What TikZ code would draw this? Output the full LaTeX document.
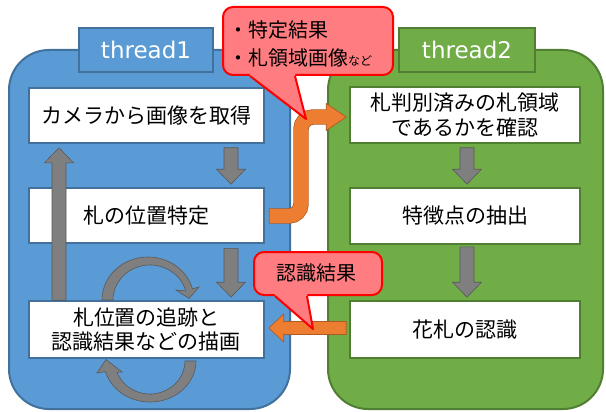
\documentclass[tikz,border=0pt]{standalone}
\usepackage{fontspec}
\usetikzlibrary{calc}
\newfontfamily\jpfont{Noto Sans CJK JP}
\newfontfamily\latfont{DejaVu Sans}
\definecolor{bluefill}{RGB}{91,155,213}
\definecolor{blueline}{RGB}{65,113,156}
\definecolor{greenfill}{RGB}{112,173,71}
\definecolor{greenline}{RGB}{80,126,50}
\definecolor{orfill}{RGB}{237,125,49}
\definecolor{orline}{RGB}{174,90,33}
\definecolor{calfill}{RGB}{255,124,128}
\definecolor{calline}{RGB}{255,0,0}
\definecolor{grfill}{RGB}{127,127,127}
\definecolor{grline}{RGB}{89,89,89}
\tikzset{
  blockarrow/.style n args={3}{to path={
    ($(\tikztotarget)!#3!(\tikztostart)$) coordinate (hb)
    ($(\tikztostart)!#1!90:(\tikztotarget)$) --
    ($(hb)!#1!-90:(\tikztostart)$) --
    ($(hb)!#2!-90:(\tikztostart)$) --
    (\tikztotarget) --
    ($(hb)!#2!90:(\tikztostart)$) --
    ($(hb)!#1!90:(\tikztostart)$) --
    ($(\tikztostart)!#1!-90:(\tikztotarget)$) -- cycle}},
  container/.style={rectangle, line width=2pt, rounded corners=40pt, inner sep=0pt},
  threadlbl/.style={rectangle, line width=2pt, text=white, inner sep=0pt,
    minimum height=44pt, font=\latfont\fontsize{23}{26}\selectfont},
  stepbox/.style={rectangle, fill=white, line width=1.6pt, inner sep=2pt,
    align=center, text=black, font=\jpfont\fontsize{21}{24.5}\selectfont},
  garrow/.style={fill=grfill, draw=grline, line width=0.6pt, line join=miter,
    blockarrow={7pt}{14.5pt}{15pt}},
  oarrow/.style={fill=orfill, draw=orline, line width=0.7pt,
    blockarrow={6.5pt}{14pt}{15pt}},
  curv/.style={fill=grfill, draw=grline, line width=0.6pt},
  calbox/.style={rectangle, fill=calfill, draw=calline, line width=2pt,
    rounded corners=10pt, inner sep=0pt},
  caltext/.style={text=black, inner sep=0pt, font=\jpfont\fontsize{20}{28}\selectfont}
}
\begin{document}
\begin{tikzpicture}[x=1pt,y=-1pt]
\useasboundingbox (0,0) rectangle (606,412);
\fill[white] (0,0) rectangle (606,412);

% containers
\node[container, fill=bluefill, draw=blueline, minimum width=281pt, minimum height=359pt] (C1) at (149.5,229.5) {};
\node[container, fill=greenfill, draw=greenline, minimum width=275pt, minimum height=359pt] (C2) at (465.5,229.5) {};

% thread labels
\node[threadlbl, fill=bluefill, draw=blueline, minimum width=134pt] (T1) at (146,50) {thread1};
\node[threadlbl, fill=greenfill, draw=greenline, minimum width=136pt] (T2) at (467,50) {thread2};

% left steps
\node[stepbox, draw=blueline, minimum width=235pt, minimum height=55pt] (L1) at (146.5,115.5) {カメラから画像を取得};
\node[stepbox, draw=blueline, minimum width=235pt, minimum height=55pt] (L2) at (146.5,215.5) {札の位置特定};
\node[stepbox, draw=blueline, minimum width=235pt, minimum height=57pt] (L3) at (146.5,329.5) {札位置の追跡と\\認識結果などの描画};

% right steps
\node[stepbox, draw=greenline, minimum width=230pt, minimum height=56pt] (R1) at (465,115) {札判別済みの札領域\\であるかを確認};
\node[stepbox, draw=greenline, minimum width=230pt, minimum height=56pt] (R2) at (465,216) {特徴点の抽出};
\node[stepbox, draw=greenline, minimum width=230pt, minimum height=57pt] (R3) at (465,329.5) {花札の認識};

% gray straight arrows
\coordinate (xa) at (231,0);
\coordinate (xu) at (59,0);
\coordinate (xr) at (467,0);
\draw[garrow] ($(L1.south -| xa)+(0,4)$) to ($(L2.north -| xa)+(0,-3)$);
\draw[garrow] ($(L2.south -| xa)+(0,4.5)$) to ($(L3.north -| xa)+(0,-3)$);
\draw[garrow] (L3.north -| xu) to ($(L1.south -| xu)+(0,4)$);
\draw[garrow] ($(R1.south -| xr)+(0,4)$) to ($(R2.north -| xr)+(0,-3)$);
\draw[garrow] ($(R2.south -| xr)+(0,2)$) to ($(R3.north -| xr)+(0,-3)$);

% curved arrows (loop on L3)
\filldraw[curv] (102,300) arc[start angle=180, end angle=345, x radius=46, y radius=43]
  -- (199,287) -- (189,298.5) -- (176,290) -- (185.74,290.94)
  arc[start angle=345, end angle=180, x radius=37, y radius=35] -- cycle;
\filldraw[curv] (196,361) arc[start angle=0, end angle=165, x radius=46, y radius=41]
  -- (97,373) -- (106,359.5) -- (122,372) -- (117.11,372.29)
  arc[start angle=160, end angle=0, x radius=35, y radius=33] -- cycle;

% orange bent arrow L2 -> R1
\coordinate (xv) at (301,0);
\coordinate (o1s) at ($(L2.east)+(4,0.5)$);
\coordinate (o1e) at ($(R1.west)+(-3,2)$);
\coordinate (o1b) at ($(o1e)+(-20,0)$);
\draw[line width=15.4pt, orline, rounded corners=12pt] (o1s) -| (xv |- o1b) -- (o1b);
\filldraw[fill=orfill, draw=orline, line width=0.7pt] ($(o1b)+(0,-13.5)$) -- (o1e) -- ($(o1b)+(0,13.5)$) -- cycle;
\draw[line width=14pt, orfill, rounded corners=12pt] ($(o1s)+(0.7,0)$) -| (xv |- o1b) -- ($(o1b)+(1.5,0)$);

% orange arrow R3 -> L3
\draw[oarrow] ($(R3.west)+(-3,-1.5)$) to ($(L3.east)+(4,-1.5)$);

% callout 1
\node[calbox, minimum width=170pt, minimum height=68pt] (CB1) at (308,41) {};
\coordinate (p1a) at ($(CB1.south)+(-58,0)$);
\coordinate (p1b) at ($(CB1.south)+(-13,0)$);
\coordinate (p1t) at ($(CB1.south)+(-2,43)$);
\fill[calfill] ($(p1a)+(-0.5,-3)$) -- (p1a) -- (p1t) -- (p1b) -- ($(p1b)+(0.5,-3)$) -- cycle;
\draw[calline, line width=2pt, line join=round] (p1a) -- (p1t) -- (p1b);
\node[caltext, anchor=west, align=left] (CT1) at (228,43.5) {・特定結果\\・札領域画像{\fontsize{12}{12}\selectfont など}};

% callout 2
\node[calbox, minimum width=128pt, minimum height=43pt] (CB2) at (318,273.5) {};
\coordinate (p2a) at ($(CB2.south)+(-43,0)$);
\coordinate (p2b) at ($(CB2.south)+(-11,0)$);
\coordinate (p2t) at ($(CB2.south)+(-5,33)$);
\fill[calfill] ($(p2a)+(-0.5,-3)$) -- (p2a) -- (p2t) -- (p2b) -- ($(p2b)+(0.5,-3)$) -- cycle;
\draw[calline, line width=2pt, line join=round] (p2a) -- (p2t) -- (p2b);
\node[caltext] (CT2) at (316,273) {認識結果};
\end{tikzpicture}
\end{document}
